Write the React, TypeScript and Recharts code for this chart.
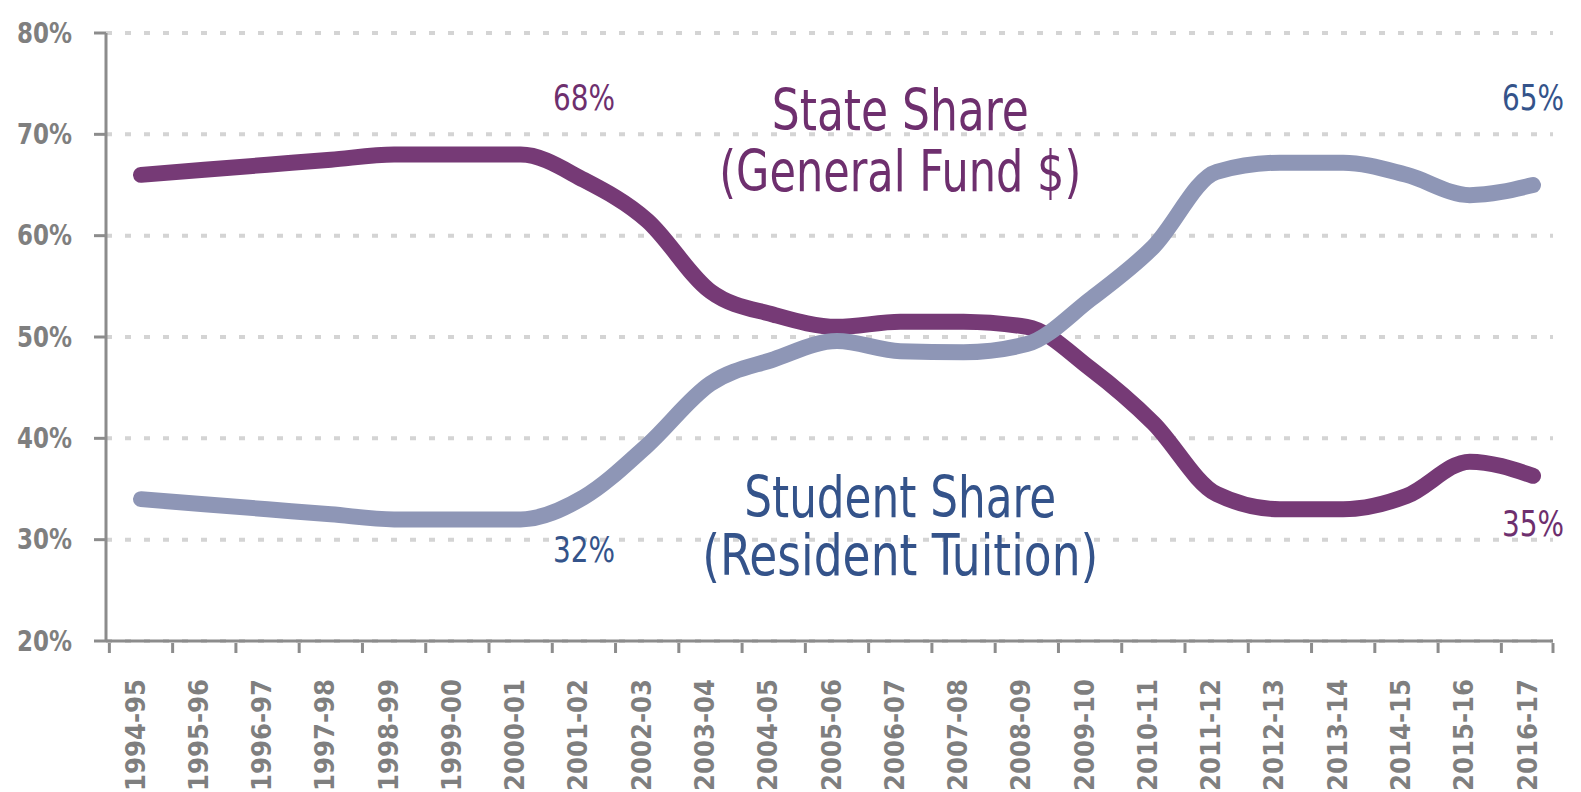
import React from "react";
import {
  LineChart,
  Line,
  CartesianGrid,
  XAxis,
  YAxis,
  ReferenceDot,
} from "recharts";

// Share of per-student funding, state general fund vs resident tuition
const YEARS = [
  "1994-95", "1995-96", "1996-97", "1997-98", "1998-99", "1999-00",
  "2000-01", "2001-02", "2002-03", "2003-04", "2004-05", "2005-06",
  "2006-07", "2007-08", "2008-09", "2009-10", "2010-11", "2011-12",
  "2012-13", "2013-14", "2014-15", "2015-16", "2016-17",
];
const STATE_SHARE = [
  66, 66.5, 67, 67.5, 68, 68, 68, 65.5, 61.5, 54.5, 52.2, 51, 51.5, 51.5,
  51, 46.9, 41.5, 34.5, 33, 33, 34.3, 37.7, 36.3,
];
const STUDENT_SHARE = [
  34, 33.5, 33, 32.5, 32, 32, 32, 34.2, 39.3, 45.4, 47.8, 49.6, 48.6, 48.5,
  49.3, 53.7, 58.9, 66.3, 67.2, 67.2, 66, 64, 65,
];
const Y_TICKS = [20, 30, 40, 50, 60, 70, 80];

const STATE_COLOR = "#763a76";
const STUDENT_COLOR = "#8e96b6";
const STATE_TEXT = "#6e2f6e";
const STUDENT_TEXT = "#34538a";
const AXIS = "#8c8c8c";
const TICK_TEXT = "#7f7f7f";
const GRID = "#d4d4d4";
const FONT = "'DejaVu Sans Condensed', 'DejaVu Sans', sans-serif";

// layout
const W = 1581;
const H = 792;
const PLOT_LEFT = 106;
const PLOT_RIGHT = 1553;
const PAD_L = 35;
const PAD_R = 20;
const STEP = (PLOT_RIGHT - PAD_R - PLOT_LEFT - PAD_L) / (YEARS.length - 1);

const data = YEARS.map((year, i) => ({
  year,
  state: STATE_SHARE[i],
  student: STUDENT_SHARE[i],
}));

// notes: text, category, value, colour, font size, drawn width
const NOTES: [string, string, number, string, number, number][] = [
  ["68%", "2001-02", 73.6, STATE_TEXT, 36, 62],
  ["32%", "2001-02", 29, STUDENT_TEXT, 36, 62],
  ["65%", "2016-17", 73.6, STUDENT_TEXT, 36, 62],
  ["35%", "2016-17", 31.6, STATE_TEXT, 36, 62],
  ["State Share", "2006-07", 72.4, STATE_TEXT, 57, 257],
  ["(General Fund $)", "2006-07", 66.4, STATE_TEXT, 57, 362],
  ["Student Share", "2006-07", 34.2, STUDENT_TEXT, 57, 312],
  ["(Resident Tuition)", "2006-07", 28.5, STUDENT_TEXT, 57, 396],
];

function XTick(props: any) {
  const { x, y, payload, index } = props;
  const left = Math.max(x - STEP / 2, PLOT_LEFT);
  const isLast = index === YEARS.length - 1;
  return (
    <g>
      <line x1={left} x2={left} y1={y - 10} y2={y} stroke={AXIS} strokeWidth={3} />
      {isLast && (
        <line x1={PLOT_RIGHT} x2={PLOT_RIGHT} y1={y - 10} y2={y} stroke={AXIS} strokeWidth={3} />
      )}
      <text
        transform={`translate(${x - 6},${y + 26}) rotate(-90)`}
        textAnchor="end"
        dominantBaseline="central"
        fill={TICK_TEXT}
        fontFamily={FONT}
        fontWeight="bold"
        fontSize={27}
        textLength={112}
        lengthAdjust="spacingAndGlyphs"
      >
        {payload.value}
      </text>
    </g>
  );
}

function YTick(props: any) {
  const { x, y, payload } = props;
  return (
    <text
      x={x}
      y={y}
      textAnchor="end"
      dominantBaseline="central"
      fill={TICK_TEXT}
      fontFamily={FONT}
      fontWeight="bold"
      fontSize={28}
      textLength={55}
      lengthAdjust="spacingAndGlyphs"
    >
      {`${payload.value}%`}
    </text>
  );
}

function note(text: string, color: string, size: number, width: number) {
  return (props: any) => {
    const vb = props.viewBox || {};
    const cx = vb.x + (vb.width || 0) / 2;
    const cy = vb.y + (vb.height || 0) / 2;
    return (
      <text
        x={cx - width / 2}
        y={cy}
        dominantBaseline="central"
        fill={color}
        fontFamily={FONT}
        fontSize={size}
        textLength={width}
        lengthAdjust="spacingAndGlyphs"
      >
        {text}
      </text>
    );
  };
}

export default function App() {
  return (
    <div style={{ width: W, height: H, background: "#fff", overflow: "hidden" }}>
      <style>{"body{margin:0}"}</style>
      <LineChart
        width={W}
        height={H}
        data={data}
        margin={{ top: 33, right: W - PLOT_RIGHT, bottom: 0, left: 0 }}
      >
        <CartesianGrid
          vertical={false}
          stroke={GRID}
          strokeWidth={4}
          strokeDasharray="6 13"
        />
        <XAxis
          dataKey="year"
          height={151}
          interval={0}
          padding={{ left: PAD_L, right: PAD_R }}
          axisLine={{ stroke: AXIS, strokeWidth: 3 }}
          tickLine={false}
          tickSize={10}
          tick={<XTick />}
        />
        <YAxis
          width={PLOT_LEFT}
          domain={[20, 80]}
          ticks={Y_TICKS}
          axisLine={{ stroke: AXIS, strokeWidth: 3 }}
          tickLine={{ stroke: AXIS, strokeWidth: 3 }}
          tickSize={12}
          tickMargin={22}
          tick={<YTick />}
        />
        <Line
          type="monotone"
          dataKey="state"
          stroke={STATE_COLOR}
          strokeWidth={16}
          strokeLinecap="round"
          dot={false}
          activeDot={false}
          isAnimationActive={false}
        />
        <Line
          type="monotone"
          dataKey="student"
          stroke={STUDENT_COLOR}
          strokeWidth={16}
          strokeLinecap="round"
          dot={false}
          activeDot={false}
          isAnimationActive={false}
        />
        {NOTES.map(([text, x, y, color, size, width]) => (
          <ReferenceDot
            key={text}
            x={x}
            y={y}
            r={0}
            fill="none"
            stroke="none"
            label={{ content: note(text, color, size, width) }}
          />
        ))}
      </LineChart>
    </div>
  );
}
